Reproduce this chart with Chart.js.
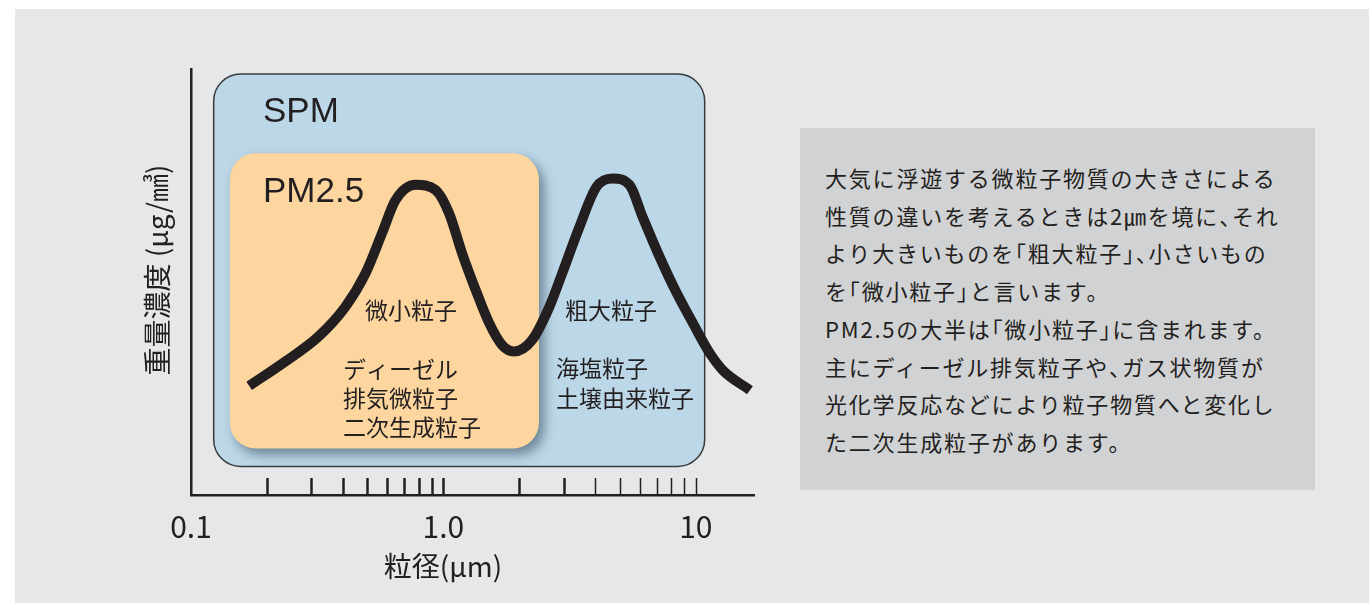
<!DOCTYPE html>
<html lang="ja">
<head>
<meta charset="UTF-8">
<title>SPMとPM2.5</title>
<style>
  html, body { margin: 0; padding: 0; background: #fff; }
  #bg { position: absolute; left: 15px; top: 9px; width: 1354px; height: 594px; background: #e6e7e8; }
  #wrap { position: absolute; left: 0; top: 0; width: 1369px; height: 603px; }
  #note {
    position: absolute; left: 800px; top: 128px; width: 515px; height: 362px;
    box-sizing: border-box; padding: 31px 0 0 25px;
    background: #d1d2d4; color: #231f20;
    font-family: "Noto Sans CJK JP", sans-serif; font-size: 22px;
    line-height: 37.7px; letter-spacing: 1.8px; white-space: nowrap;
  }
  #note .h { font-feature-settings: "halt"; }
</style>
</head>
<body>
<div id="bg"></div>
<div id="wrap"><canvas id="myChart" width="1369" height="603"></canvas></div>
<div id="note">大気に浮遊する微粒子物質の大きさによる<br>性質の違いを考えるときは2㎛を境に<span class="h">、</span>それ<br>より大きいものを<span class="h">「</span>粗大粒子<span class="h">」、</span>小さいもの<br>を<span class="h">「</span>微小粒子<span class="h">」</span>と言います。<br>PM2.5の大半は<span class="h">「</span>微小粒子<span class="h">」</span>に含まれます。<br>主にディーゼル排気粒子や<span class="h">、</span>ガス状物質が<br>光化学反応などにより粒子物質へと変化し<br>た二次生成粒子があります。</div>

<script src="https://cdn.jsdelivr.net/npm/chart.js"></script>
<script>
// particle diameter (um) and relative mass concentration
const sizeUm = [0.170, 0.236, 0.320, 0.409, 0.491, 0.571, 0.646, 0.776, 0.931, 1.052,
                1.185, 1.343, 1.517, 1.708, 1.906, 2.248, 2.626, 2.958, 3.456, 4.037,
                4.674, 5.462, 6.152, 7.186, 8.399, 9.721, 11.36, 12.79, 16.38];
const massConc = [25.6, 31.3, 37.2, 44.2, 52.0, 61.4, 69.2, 72.8, 71.6, 66.2,
                  56.8, 48.1, 40.4, 35.2, 33.7, 36.4, 44.1, 52.1, 62.9, 72.3,
                  74.3, 72.8, 65.3, 55.9, 47.4, 40.4, 33.3, 29.3, 24.6];

const labelValues = [0.1, 1, 10];
const labelTexts = ['0.1', '1.0', '10'];
const tickMarks = [0.2, 0.3, 0.4, 0.5, 0.6, 0.7, 0.8, 0.9, 1, 2, 3, 4, 5, 6, 7, 8, 9, 10];

const ink = '#231f20';
const jp = '"Noto Sans CJK JP", sans-serif';

const decor = {
    id: 'decor',
    beforeDatasetsDraw(chart) {
        const ctx = chart.ctx;
        const x = chart.scales.x, y = chart.scales.y;
        ctx.save();
        // SPM box
        let x1 = x.getPixelForValue(0.123), x2 = x.getPixelForValue(10.84);
        let y1 = y.getPixelForValue(98.8), y2 = y.getPixelForValue(6.7);
        ctx.beginPath();
        ctx.roundRect(x1, y1, x2 - x1, y2 - y1, 27);
        ctx.fillStyle = '#bcd8e8';
        ctx.fill();
        ctx.lineWidth = 1.5;
        ctx.strokeStyle = '#3a3a3c';
        ctx.stroke();

        // PM2.5 box with shadow
        x1 = x.getPixelForValue(0.1425); x2 = x.getPixelForValue(2.39);
        y1 = y.getPixelForValue(80.2); y2 = y.getPixelForValue(10.9);
        ctx.shadowColor = 'rgba(40,60,80,0.55)';
        ctx.shadowBlur = 12;
        ctx.shadowOffsetX = 5;
        ctx.shadowOffsetY = 6;
        ctx.beginPath();
        ctx.roundRect(x1, y1, x2 - x1, y2 - y1, 26);
        ctx.fillStyle = '#fdd69f';
        ctx.fill();
        ctx.restore();
    },
    afterDraw(chart) {
        const ctx = chart.ctx;
        const x = chart.scales.x;
        const base = chart.chartArea.bottom;
        ctx.save();
        // inner tick marks
        ctx.strokeStyle = ink;
        tickMarks.forEach(v => {
            const px = Math.round(x.getPixelForValue(v)) + 0.5;
            ctx.lineWidth = v <= 3 ? 2.5 : 1.5;
            ctx.beginPath();
            ctx.moveTo(px, base);
            ctx.lineTo(px, base - 17);
            ctx.stroke();
        });

        ctx.fillStyle = ink;
        ctx.font = '35px "Liberation Sans", Arial, sans-serif';
        ctx.textBaseline = 'alphabetic';
        ctx.textAlign = 'left';
        ctx.fillText('SPM', 263, 122);
        ctx.fillText('PM2.5', 263, 202);

        ctx.font = '23px ' + jp;
        ctx.textBaseline = 'middle';
        const notes = [
            ['微小粒子', 365, 310], ['粗大粒子', 565, 310],
            ['ディーゼル', 343, 369], ['排気微粒子', 343, 398], ['二次生成粒子', 343, 427],
            ['海塩粒子', 556, 368], ['土壌由来粒子', 556, 398]
        ];
        notes.forEach(n => ctx.fillText(n[0], n[1], n[2]));

        // axis titles
        ctx.font = '28px ' + jp;
        ctx.textAlign = 'center';
        ctx.fillText('粒径(μm)', 443, 566);
        ctx.translate(157, 270);
        ctx.rotate(-Math.PI / 2);
        ctx.fillText('重量濃度 (μg/㎣)', 0, 0);
        ctx.restore();
    }
};

const ctx = document.getElementById('myChart');

new Chart(ctx, {
    type: 'line',
    data: {
        datasets: [{
            label: '重量濃度',
            data: sizeUm.map((s, i) => ({ x: s, y: massConc[i] })),
            borderColor: ink,
            borderWidth: 10,
            pointRadius: 0,
            cubicInterpolationMode: 'monotone',
            fill: false
        }]
    },
    options: {
        responsive: false,
        animation: false,
        layout: { padding: { left: 191, right: 615, top: 69, bottom: 0 } },
        plugins: { legend: { display: false }, tooltip: { enabled: false } },
        scales: {
            x: {
                type: 'logarithmic',
                min: 0.1,
                max: 17,
                afterBuildTicks: s => { s.ticks = labelValues.map(v => ({ value: v })); },
                afterFit: s => { s.height = 108; },
                grid: { display: false, drawTicks: false },
                border: { display: true, color: ink, width: 2.5 },
                ticks: {
                    autoSkip: false,
                    maxRotation: 0,
                    padding: 14,
                    color: ink,
                    font: { family: jp, size: 30 },
                    callback: v => labelTexts[labelValues.indexOf(v)] || ''
                }
            },
            y: {
                min: 0,
                max: 100,
                afterFit: s => { s.width = 0; },
                grid: { display: false, drawTicks: false },
                border: { display: true, color: ink, width: 2.5 },
                ticks: { display: false }
            }
        }
    },
    plugins: [decor]
});
</script>
</body>
</html>
